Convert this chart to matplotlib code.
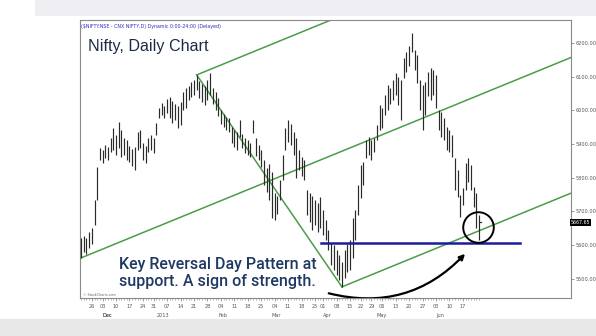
import matplotlib
matplotlib.use('Agg')
import matplotlib.pyplot as plt
import matplotlib.transforms as mtransforms
from matplotlib.patches import FancyArrowPatch, Rectangle
import numpy as np
import pandas as pd

# NSE trading calendar, Nov 2012 - Jun 2013
holidays = ['2012-11-28', '2012-12-25', '2013-03-27', '2013-03-29',
            '2013-04-19', '2013-04-24', '2013-05-01']
days = pd.bdate_range('2012-11-20', '2013-06-25')
days = days[~days.isin(pd.to_datetime(holidays))]

# daily high / low of CNX Nifty
highs = [5621, 5627, 5621, 5639, 5651, 5734, 5832, 5888, 5882, 5897,
         5891, 5918, 5948, 5927, 5966, 5942, 5918, 5912, 5894, 5885,
         5891, 5936, 5942, 5903, 5894, 5918, 5927, 5918, 5963, 6007,
         6022, 6013, 6034, 6040, 6028, 6019, 6013, 6025, 6055, 6066,
         6072, 6084, 6090, 6105, 6087, 6078, 6072, 6090, 6111, 6066,
         6055, 6037, 6001, 5989, 5980, 5977, 5951, 5942, 5936, 5972,
         5930, 5918, 5912, 5903, 5972, 5918, 5897, 5882, 5853, 5829,
         5841, 5817, 5755, 5746, 5793, 5868, 5948, 5972, 5960, 5936,
         5918, 5882, 5862, 5853, 5764, 5755, 5746, 5734, 5725, 5743,
         5705, 5675, 5645, 5607, 5601, 5586, 5571, 5550, 5586, 5604,
         5615, 5681, 5705, 5779, 5838, 5847, 5912, 5921, 5912, 5918,
         5957, 6016, 6007, 6046, 6075, 6066, 6090, 6111, 6099, 6090,
         6155, 6173, 6191, 6230, 6179, 6164, 6090, 6075, 6084, 6114,
         6126, 6120, 6105, 6001, 5995, 5977, 5951, 5942, 5927, 5859,
         5823, 5749, 5770, 5844, 5859, 5838, 5773, 5755, 5690]
lows = [5562, 5580, 5574, 5592, 5604, 5660, 5734, 5853, 5844, 5859,
        5853, 5877, 5882, 5868, 5888, 5862, 5868, 5853, 5847, 5835,
        5823, 5882, 5888, 5853, 5844, 5877, 5882, 5874, 5927, 5977,
        5986, 5977, 5992, 5977, 5963, 5972, 5948, 5957, 6001, 6007,
        6031, 6040, 6046, 6061, 6037, 6025, 6016, 6031, 6046, 6019,
        6001, 5983, 5960, 5951, 5942, 5936, 5903, 5891, 5882, 5921,
        5888, 5874, 5868, 5862, 5933, 5865, 5853, 5832, 5779, 5758,
        5734, 5681, 5675, 5693, 5734, 5793, 5882, 5906, 5897, 5868,
        5799, 5823, 5805, 5793, 5690, 5669, 5645, 5660, 5639, 5651,
        5630, 5615, 5586, 5541, 5527, 5512, 5497, 5476, 5503, 5521,
        5527, 5562, 5615, 5690, 5740, 5779, 5859, 5868, 5853, 5877,
        5912, 5942, 5948, 5986, 6001, 6019, 6031, 6046, 6016, 5972,
        6096, 6114, 6132, 6173, 6120, 6081, 6001, 5942, 5986, 6043,
        6031, 6046, 6007, 5942, 5921, 5912, 5882, 5877, 5862, 5764,
        5743, 5684, 5719, 5764, 5788, 5764, 5713, 5651, 5615]
last_close = 5667.65

# pitchfork pivots: (bar, price)
pivot_a = (0, 5562)
pivot_b = (43, 6105)
pivot_c = (97, 5476)
support = 5607
yticks = [5500, 5600, 5700, 5800, 5900, 6000, 6100, 6200]

fig = plt.figure(figsize=(5.96, 3.36), dpi=100)
fig.patch.set_facecolor('white')
fig.patches.append(Rectangle((35/596, 1-16/336), 561/596, 16/336, transform=fig.transFigure,
                             facecolor='#efeff3', edgecolor='none', zorder=0))
fig.patches.append(Rectangle((0, 0), 1, 17/336, transform=fig.transFigure,
                             facecolor='#e7e7e7', edgecolor='none', zorder=0))

ax = fig.add_axes([80/596, 1-298/336, 491/596, 278/336])
x = np.arange(len(highs))
xmax = 182.2
ax.set_xlim(-0.4, xmax)
ax.set_ylim(5443, 6268)

ax.vlines(x, lows, highs, color='#2a2a2a', lw=0.85, zorder=3)
ax.plot([x[-1], x[-1] + 0.9], [last_close, last_close], color='#2a2a2a', lw=0.85, zorder=3)

# Andrews pitchfork
green = '#4c9c48'
mid = ((pivot_b[0] + pivot_c[0]) / 2, (pivot_b[1] + pivot_c[1]) / 2)
slope = (mid[1] - pivot_a[1]) / (mid[0] - pivot_a[0])
ax.plot([pivot_a[0], xmax], [pivot_a[1], pivot_a[1] + slope * (xmax - pivot_a[0])], color=green, lw=1.1, zorder=2)
ax.plot([pivot_b[0], xmax], [pivot_b[1], pivot_b[1] + slope * (xmax - pivot_b[0])], color=green, lw=1.1, zorder=2)
ax.plot([pivot_c[0], xmax], [pivot_c[1], pivot_c[1] + slope * (xmax - pivot_c[0])], color=green, lw=1.1, zorder=2)
ax.plot([pivot_b[0], pivot_c[0]], [pivot_b[1], pivot_c[1]], color=green, lw=1.1, zorder=2)

# support line and key reversal circle
ax.plot([89.2, 163.2], [support, support], color='#1c1ca0', lw=1.8, zorder=4)
ax.plot([147.6], [5654], 'o', ms=22, mfc='none', mec='black', mew=1.4, zorder=5)

arrow = FancyArrowPatch((91.1, 5459), (143.5, 5580), connectionstyle='arc3,rad=0.3',
                        arrowstyle='-|>', mutation_scale=8, lw=1.6, color='black', zorder=5)
ax.add_patch(arrow)

# axes styling
for s in ax.spines.values():
    s.set_color('#8a8a8a')
    s.set_linewidth(0.8)
ax.yaxis.tick_right()
ax.set_yticks(yticks)
ax.set_yticklabels(['%.2f' % v for v in yticks])
ax.tick_params(axis='y', labelsize=3.6, labelcolor='#555555', length=2, width=0.5, color='#777777', pad=1)

# weekly ticks (first trading day of each week) and daily minor ticks
wk = pd.Series(days).dt.isocalendar().week.values
week_idx = [i for i in range(len(days)) if i == 0 or wk[i] != wk[i-1]][1:-1]
ax.set_xticks(week_idx)
ax.set_xticklabels([days[i].strftime('%d') for i in week_idx])
ax.set_xticks(x, minor=True)
ax.tick_params(axis='x', which='major', labelsize=3.6, labelcolor='#555555', length=2.5, width=0.5, color='#777777', pad=1.5)
ax.tick_params(axis='x', which='minor', length=1.2, width=0.4, color='#888888')

trans = mtransforms.blended_transform_factory(ax.transData, ax.transAxes)
month_idx = [i for i in range(1, len(days)) if days[i].month != days[i-1].month]
for i in [8] + month_idx:
    lab = '2013' if days[i].year == 2013 and days[i].month == 1 else days[i].strftime('%b')
    ax.text(i, -0.055, lab, transform=trans, fontsize=3.6, color='#555555', ha='left', va='top')

ax.text(xmax, last_close, '%.2f' % last_close, transform=ax.transData, fontsize=3.4, color='white',
        ha='left', va='center', clip_on=False,
        bbox=dict(boxstyle='square,pad=0.15', facecolor='black', edgecolor='none'))

ax.text(0.002, 0.985, '($NIFTY.NSE - CNX NIFTY,D) Dynamic 0:00-24:00 (Delayed)', transform=ax.transAxes,
        fontsize=3.4, color='#2b2bc0', ha='left', va='top')
ax.text(0.006, 0.005, '\u00a9 StockCharts.com', transform=ax.transAxes, fontsize=2.4, color='#666666',
        ha='left', va='bottom')

fig.text(88/596, 1-46/336, 'Nifty, Daily Chart', fontsize=11.6, color='#1c2a48',
         family='Liberation Sans', ha='left', va='center')
fig.text(119/596, 1-273/336, 'Key Reversal Day Pattern at\nsupport. A sign of strength.', fontsize=11.5,
         color='#1f3864', family='Roboto', weight='medium', ha='left', va='center', linespacing=1.15)

fig.savefig('out.png', dpi=100)
